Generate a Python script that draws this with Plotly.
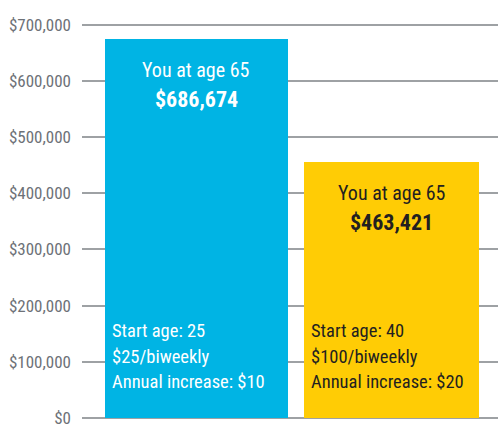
import plotly.graph_objects as go

# Data (bar heights; labels as printed)
scenarios = ["Start at 25", "Start at 40"]
bar_values = [674000, 455000]
value_labels = ["$686,674", "$463,421"]
headline = "You at age 65"
detail_lines = [
    ["Start age: 25", "$25/biweekly", "Annual increase: $10"],
    ["Start age: 40", "$100/biweekly", "Annual increase: $20"],
]
bar_colors = ["#00B4E4", "#FFCC05"]
text_colors = ["#FFFFFF", "#231F20"]
tick_values = [0, 100000, 200000, 300000, 400000, 500000, 600000, 700000]
tick_labels = ["$0", "$100,000", "$200,000", "$300,000", "$400,000",
               "$500,000", "$600,000", "$700,000"]

xpos = [0, 1]
widths = [0.938, 0.897]
FONT = "Roboto Condensed, DejaVu Sans Condensed, sans-serif"

fig = go.Figure()
fig.add_trace(go.Bar(
    x=xpos, y=bar_values, width=widths,
    marker=dict(color=bar_colors, line=dict(width=0)),
    hoverinfo="skip",
))

ann = []
for i in range(2):
    ann.append(dict(x=xpos[i], y=bar_values[i], xref="x", yref="y",
                    text=headline, showarrow=False, yanchor="middle",
                    yshift=-31, font=dict(family=FONT, size=20, color=text_colors[i])))
    ann.append(dict(x=xpos[i], y=bar_values[i], xref="x", yref="y",
                    text="<b>" + value_labels[i] + "</b>", showarrow=False,
                    yanchor="middle", yshift=-60,
                    font=dict(family=FONT, size=22, color=text_colors[i])))
    for j, line in enumerate(detail_lines[i]):
        ann.append(dict(x=xpos[i] - widths[i] / 2, y=0, xref="x", yref="y",
                        text=line, showarrow=False, xanchor="left", yanchor="middle",
                        xshift=5, yshift=87 - 25.5 * j,
                        font=dict(family=FONT, size=18.5, color=text_colors[i])))

fig.update_layout(
    width=498, height=424,
    margin=dict(l=82, r=0, t=20, b=4),
    paper_bgcolor="white", plot_bgcolor="white",
    showlegend=False,
    bargap=0,
    annotations=ann,
    xaxis=dict(range=[-0.587, 1.546], showticklabels=False, showgrid=False,
               zeroline=False, showline=False, fixedrange=True),
    yaxis=dict(range=[-3560, 708190], tickvals=tick_values, ticktext=tick_labels,
               showgrid=True, gridcolor="#9EA1A4", gridwidth=1.5, zeroline=False,
               showline=False, ticks="", ticklabelstandoff=10, automargin=False,
               ticklabeloverflow="allow",
               tickfont=dict(family=FONT, size=17, color="#6D7177"), layer="below traces"),
)

fig.write_html("out.html", config={"displayModeBar": False},
               post_script="document.body.style.margin='0';")
